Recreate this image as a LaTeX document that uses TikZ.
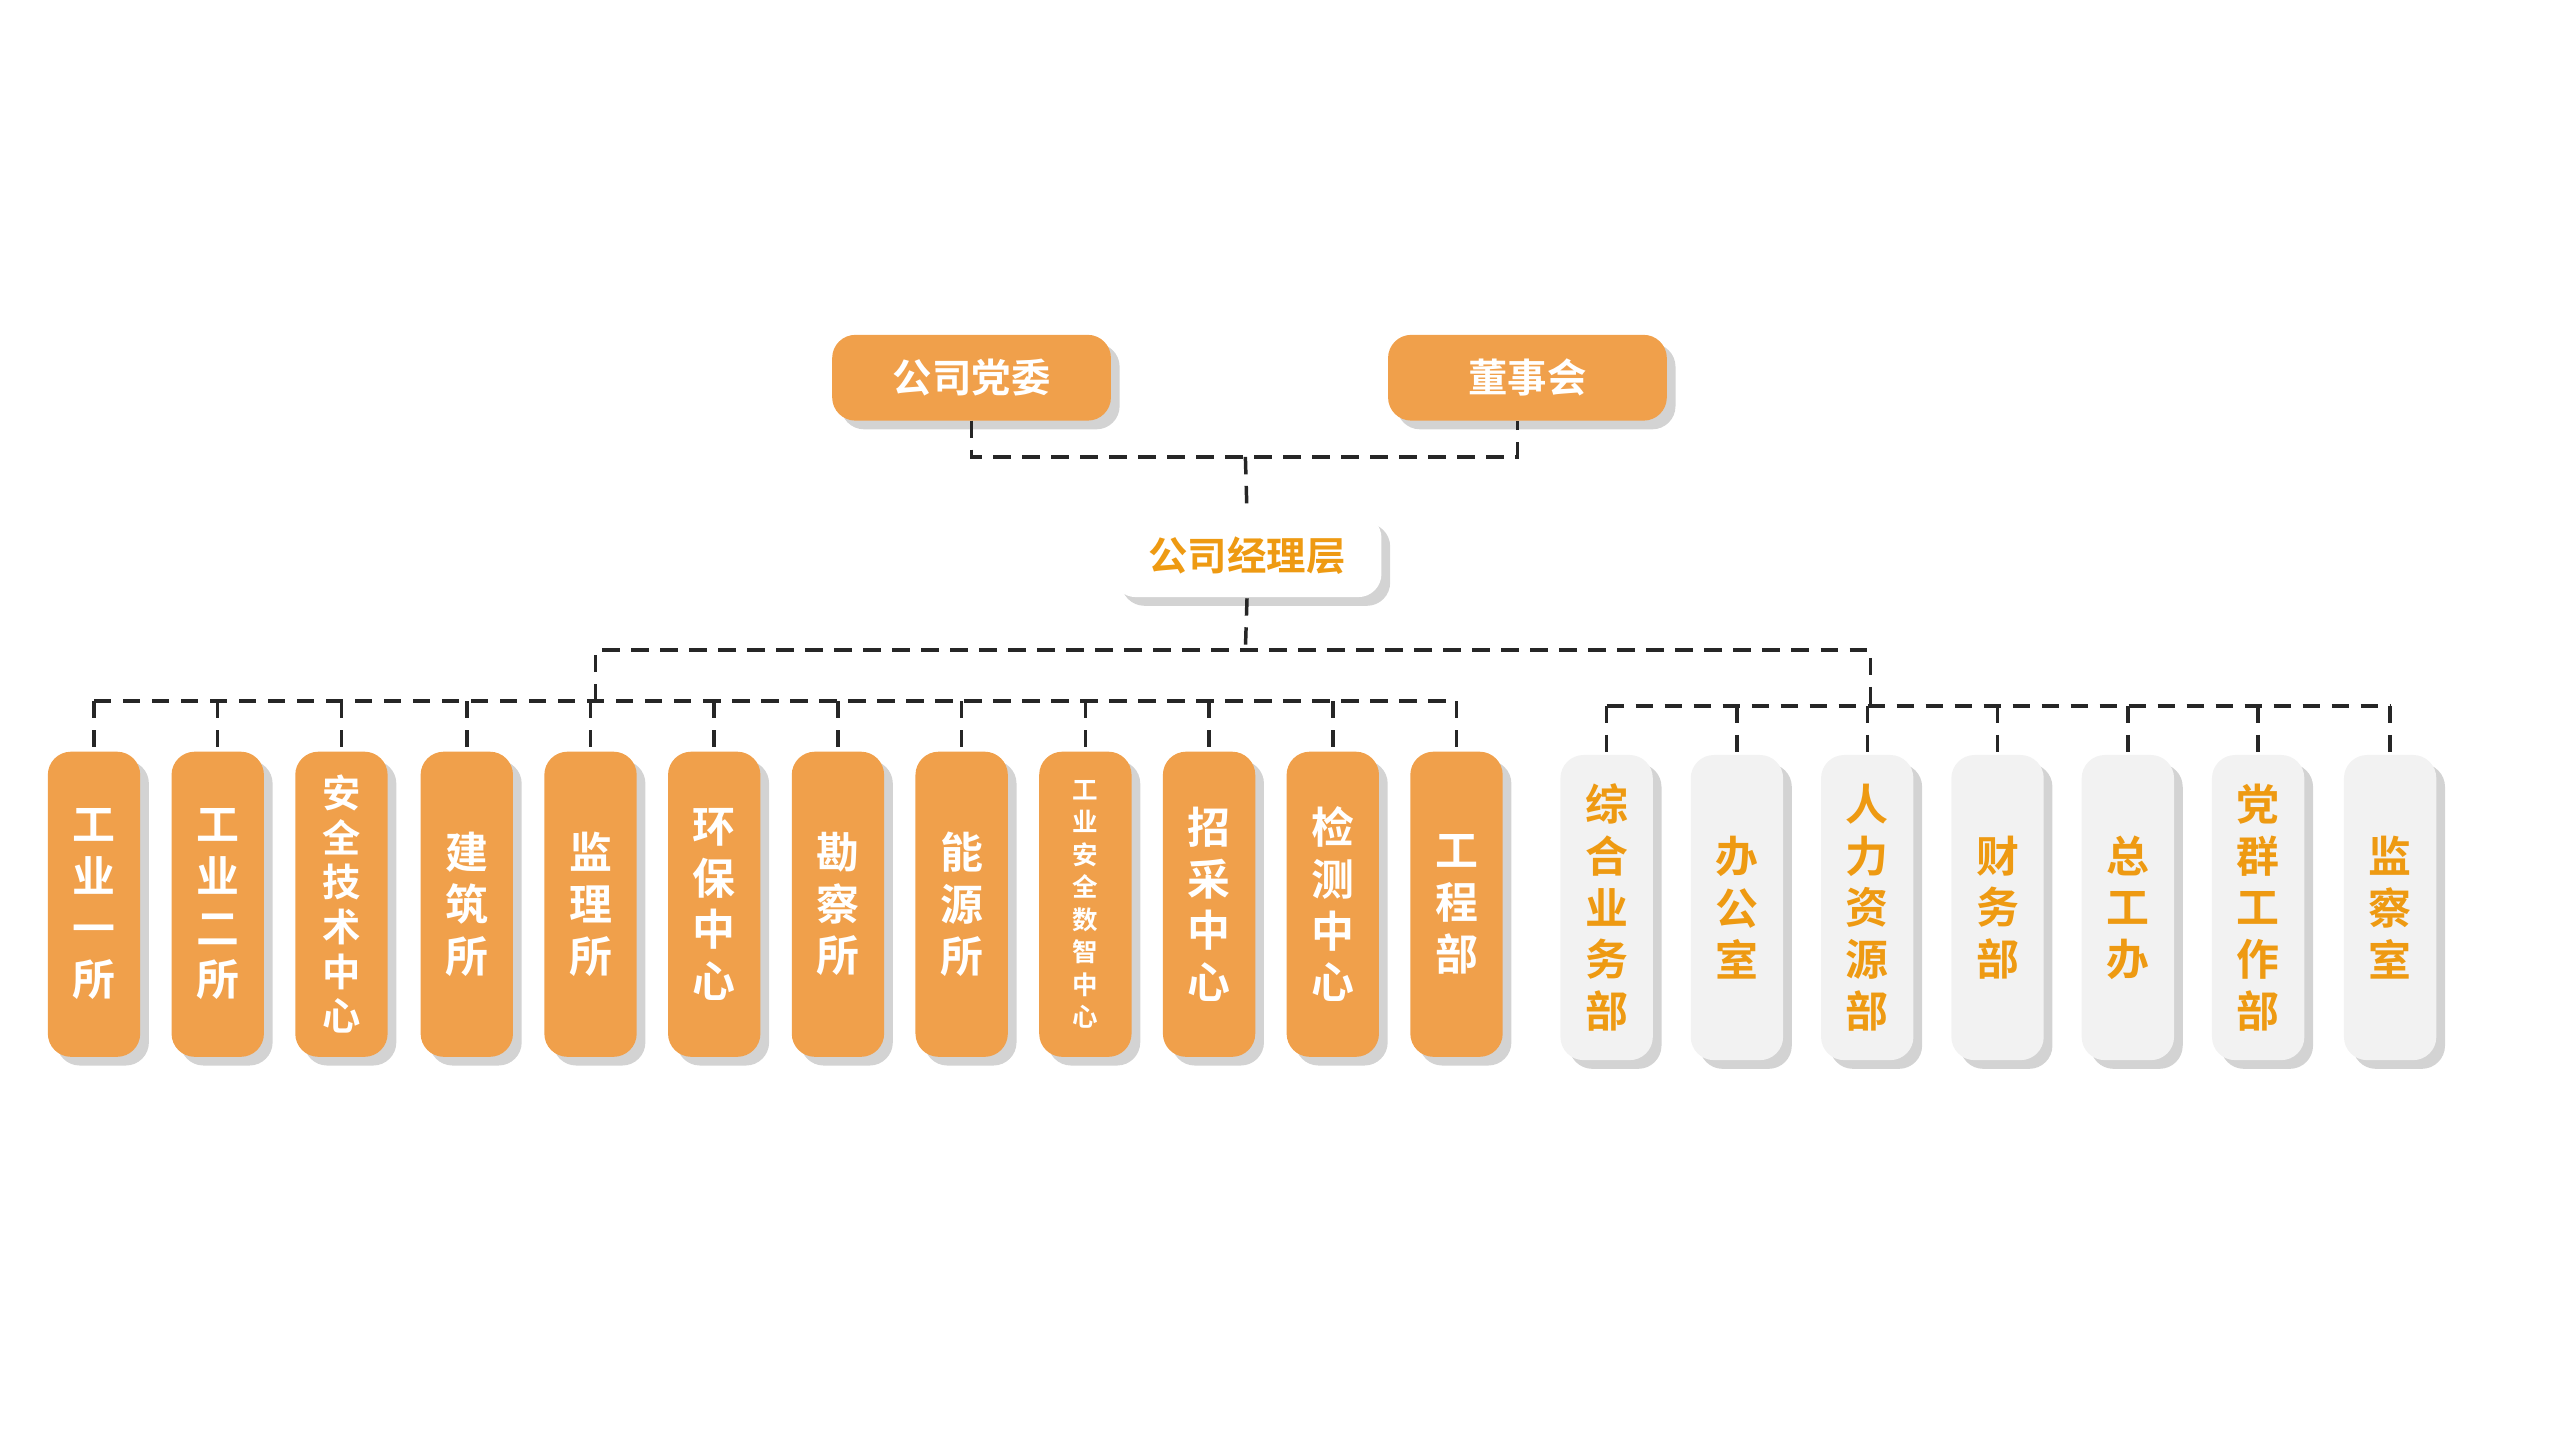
\documentclass[tikz,border=0pt]{standalone}
\usepackage{fontspec}
\newfontfamily\cjk{Noto Sans CJK SC}[BoldFont={Noto Sans CJK SC Bold}]
\usetikzlibrary{shadows}
\definecolor{org}{HTML}{F0A04B}
\definecolor{otxt}{HTML}{EE9A12}
\definecolor{gbox}{HTML}{F2F2F2}
\tikzset{
  x=0.01cm,y=-0.01cm,
  topbox/.style={fill=org,rounded corners=4pt,minimum width=169*0.01cm,minimum height=52*0.01cm,text=white,font=\cjk\bfseries\fontsize{6.8}{8}\selectfont,drop shadow={opacity=0.35,shadow xshift=1.5pt,shadow yshift=-1.5pt}},
  mgrbox/.style={topbox,fill=white,text=otxt,minimum width=163*0.01cm,minimum height=50*0.01cm},
  obox/.style={fill=org,rounded corners=4pt,minimum width=56*0.01cm,minimum height=185*0.01cm,text=white,align=center,font=\cjk\bfseries\fontsize{7.4}{8.9}\selectfont,drop shadow={opacity=0.35,shadow xshift=1.5pt,shadow yshift=-1.5pt},anchor=north},
  gbx/.style={obox,fill=gbox,text=otxt},
  conn/.style={densely dashed,line width=0.6pt,black!85}
}
\begin{document}
\begin{tikzpicture}
\useasboundingbox (0,0) rectangle (1552,873);
\node[topbox] (dw) at (589,229) {公司党委};
\node[topbox] (ds) at (926,229) {董事会};
\node[mgrbox] (jl) at (756,337) {公司经理层};
\coordinate (m1) at (755,277);
\draw[conn] (589,255) |- (m1) -| (920,255);
\draw[conn] (m1) -- (jl.north);
\coordinate (m2) at (755,394);
\draw[conn] (jl.south) -- (m2);
\draw[conn] (361,425) |- (m2) -| (1134,428);
% left row
\foreach \x/\t/\n in {57/工\\业\\一\\所/a1,132/工\\业\\二\\所/a2,283/建\\筑\\所/a4,358/监\\理\\所/a5,433/环\\保\\中\\心/a6,508/勘\\察\\所/a7,583/能\\源\\所/a8,733/招\\采\\中\\心/a10,808/检\\测\\中\\心/a11,883/工\\程\\部/a12}{
  \node[obox] (\n) at (\x,455) {\t};
  \draw[conn] (\x,425) -- (\n.north);
}
\node[obox,font=\cjk\bfseries\fontsize{6.6}{7.7}\selectfont] (a3) at (207,455) {安\\全\\技\\术\\中\\心};
\draw[conn] (207,425) -- (a3.north);
\node[obox,font=\cjk\bfseries\fontsize{4.4}{5.6}\selectfont] (a9) at (658,455) {工\\业\\安\\全\\数\\智\\中\\心};
\draw[conn] (658,425) -- (a9.north);
\draw[conn] (57,425) -- (883,425);
% right row
\foreach \x/\t/\n in {974/综\\合\\业\\务\\部/b1,1053/办\\公\\室/b2,1132/人\\力\\资\\源\\部/b3,1211/财\\务\\部/b4,1290/总\\工\\办/b5,1369/党\\群\\工\\作\\部/b6,1449/监\\察\\室/b7}{
  \node[gbx] (\n) at (\x,457) {\t};
  \draw[conn] (\x,428) -- (\n.north);
}
\draw[conn] (974,428) -- (1449,428);
\end{tikzpicture}
\end{document}
